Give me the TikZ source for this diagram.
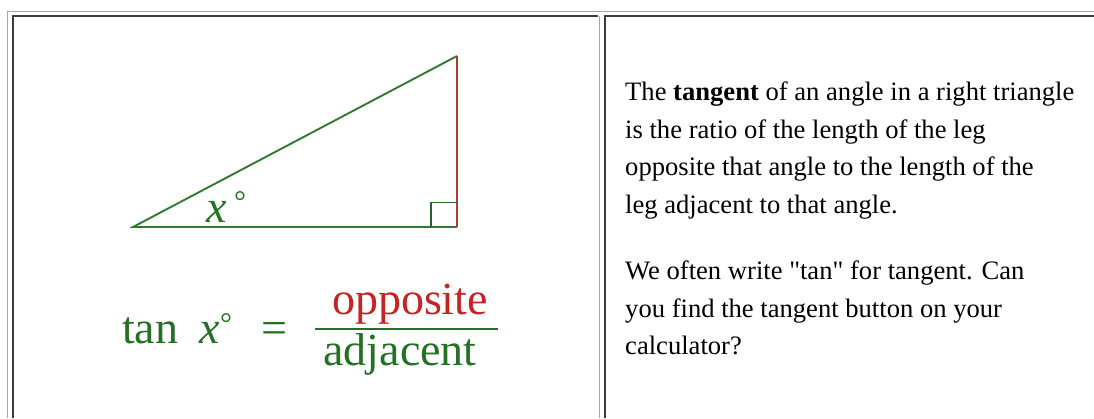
\documentclass[tikz,border=0pt]{standalone}
\usepackage{fontspec}
\setmainfont{Liberation Serif}[Ligatures=TeXOff]

\definecolor{leggreen}{RGB}{48,122,48}
\definecolor{legred}{RGB}{178,58,48}
\definecolor{textgreen}{RGB}{36,112,36}
\definecolor{textred}{RGB}{196,36,36}
\definecolor{darkborder}{RGB}{60,60,60}
\definecolor{lightborder}{RGB}{165,165,165}

\tikzset{
	lightline/.style={lightborder, line width=1.6pt},
	darkline/.style={darkborder, line width=1.6pt},
	legline/.style={leggreen, line width=1.9pt},
	oppline/.style={legred, line width=1.2pt},
	bigtext/.style={inner sep=0pt, font=\fontsize{46}{46}\selectfont},
	degsign/.style={inner sep=0pt, font=\fontsize{30}{30}\selectfont, anchor=base},
	bodytext/.style={inner sep=0pt, align=left, anchor=north west, font=\fontsize{26.6}{37.5}\selectfont}
}

\begin{document}
\begin{tikzpicture}[x=1pt, y=-1pt]
	\useasboundingbox (0,0) rectangle (1094,418);

	%borders
	\draw [lightline] plot coordinates {(7.5,418) (7.5,11.5) (1094,11.5)};
	\draw [darkline] plot coordinates {(13,418) (13,16) (598,16)};
	\draw [lightline] (599.5,16) -- (599.5,418);
	\draw [darkline] plot coordinates {(605,418) (605,16) (1094,16)};

	%triangle
	\coordinate (A) at (133,227);
	\coordinate (B) at (457,227);
	\coordinate (C) at (457,56);
	\draw [legline] (B) -- (A) -- (C);
	\draw [oppline] (B) -- (C);
	\draw [leggreen!80!black, line width=1.3pt] plot coordinates {
		(431,227)
		(431,202.5)
		(457,202.5)
	};

	%angle label
	\node [bigtext, textgreen, anchor=base west] (anglex) at (206,222) {\textit{x}};
	\node [degsign, textgreen] (angledeg) at (240,211) {°};

	%formula
	\node [bigtext, textgreen, anchor=base west] (tanword) at (122,343) {tan};
	\node [bigtext, textgreen, anchor=base west] (tanx) at (199,343) {\textit{x}};
	\node [degsign, textgreen] (tandeg) at (226,333) {°};
	\node [bigtext, textgreen, anchor=base west] (equals) at (261,343) {=};
	\node [bigtext, textred, anchor=base] (numer) at (410,314) {opposite};
	\node [bigtext, textgreen, anchor=base] (denom) at (400,365) {adjacent};
	\coordinate (barL) at (315,329);
	\coordinate (barR) at (498,329);
	\draw [textgreen, line width=1.5pt] (barL) -- (barR);

	%text
	\node [bodytext] (parone) at (625,82) {The \textbf{tangent} of an angle in a right triangle\\
		is the ratio of the length of the leg\\
		opposite that angle to the length of the\\
		leg adjacent to that angle.};
	\node [bodytext] (partwo) at (625,261) {We often write "tan" for tangent. Can\\
		you find the tangent button on your\\
		calculator?};

\end{tikzpicture}
\end{document}
